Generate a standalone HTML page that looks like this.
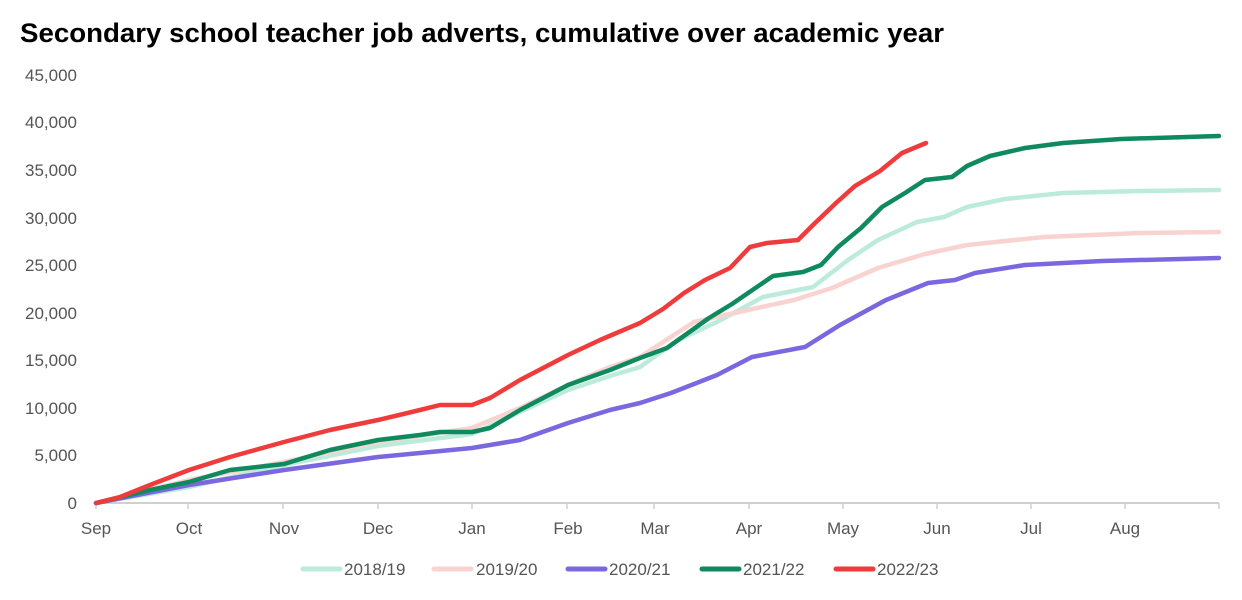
<!DOCTYPE html>
<html><head><meta charset="utf-8"><style>
body{margin:0;background:#fff;}
svg{display:block;font-family:"Liberation Sans",sans-serif;}
</style></head><body>
<svg width="1242" height="600" viewBox="0 0 1242 600">
<text x="20" y="42" font-size="27" font-weight="bold" fill="#000" textLength="924" lengthAdjust="spacingAndGlyphs">Secondary school teacher job adverts, cumulative over academic year</text>
<g font-size="17" fill="#555" text-anchor="end">
<text x="77" y="509">0</text>
<text x="77" y="461">5,000</text>
<text x="77" y="414">10,000</text>
<text x="77" y="366">15,000</text>
<text x="77" y="319">20,000</text>
<text x="77" y="271">25,000</text>
<text x="77" y="224">30,000</text>
<text x="77" y="176">35,000</text>
<text x="77" y="128">40,000</text>
<text x="77" y="81">45,000</text>
</g>
<line x1="96" y1="503" x2="1219" y2="503" stroke="#d0d0d0" stroke-width="2"/>
<g stroke="#d0d0d0" stroke-width="1.5">
<line x1="96" y1="503" x2="96" y2="509"/><line x1="188" y1="503" x2="188" y2="509"/><line x1="283" y1="503" x2="283" y2="509"/><line x1="378" y1="503" x2="378" y2="509"/><line x1="472" y1="503" x2="472" y2="509"/><line x1="567" y1="503" x2="567" y2="509"/><line x1="654" y1="503" x2="654" y2="509"/><line x1="749" y1="503" x2="749" y2="509"/><line x1="843" y1="503" x2="843" y2="509"/><line x1="937" y1="503" x2="937" y2="509"/><line x1="1031" y1="503" x2="1031" y2="509"/><line x1="1125" y1="503" x2="1125" y2="509"/><line x1="1219" y1="503" x2="1219" y2="509"/>
</g>
<g font-size="17" fill="#555" text-anchor="middle">
<text x="96" y="534">Sep</text><text x="189" y="534">Oct</text><text x="284" y="534">Nov</text><text x="378" y="534">Dec</text><text x="472" y="534">Jan</text><text x="568" y="534">Feb</text><text x="655" y="534">Mar</text><text x="749" y="534">Apr</text><text x="843" y="534">May</text><text x="937" y="534">Jun</text><text x="1031" y="534">Jul</text><text x="1125" y="534">Aug</text>
</g>
<g fill="none" stroke-width="4.5" stroke-linejoin="round" stroke-linecap="round">
<polyline stroke="#bcebdc" points="96,503 189,487 284,465 378,446 472,434 520,412 568,390 610,376 640,367 678,340 717,322 763,297 813,287 848,260 878,240 917,222 944,217 967,207 1005,199 1063,193 1140,191 1219,190"/>
<polyline stroke="#f8d3d0" points="96,503 189,480 284,462 378,442 472,428 520,408 568,385 610,367 640,357 694,322 748,310 794,300 832,288 878,268 925,254 967,245 1044,237 1140,233 1219,232"/>
<polyline stroke="#7b68e0" points="96,503 189,485 284,470 378,457 472,448 520,440 568,423 610,410 640,403 671,393 717,375 752,357 805,347 840,325 886,300 928,283 955,280 975,273 1025,265 1102,261 1219,258"/>
<polyline stroke="#0f8a5f" points="96,503 150,490 189,482 230,470 284,464 330,450 378,440 420,435 440,432 472,432 490,428 520,410 568,385 610,370 640,358 667,348 709,318 732,304 773,276 803,272 821,265 838,247 861,228 882,207 905,193 925,180 952,177 967,166 990,156 1025,148 1063,143 1121,139 1219,136"/>
<polyline stroke="#ef3b3b" points="96,503 120,497 150,485 189,470 230,457 284,442 330,430 378,420 420,410 440,405 472,405 490,398 520,380 568,355 600,340 640,323 663,309 684,293 705,280 730,268 750,247 767,243 798,240 813,225 836,203 855,186 880,171 902,153 926,143"/>
</g>
<g stroke-width="5" stroke-linecap="round">
<line x1="303" y1="569" x2="340" y2="569" stroke="#bcebdc"/>
<line x1="434" y1="569" x2="471" y2="569" stroke="#f8d3d0"/>
<line x1="568" y1="569" x2="605" y2="569" stroke="#7b68e0"/>
<line x1="702" y1="569" x2="739" y2="569" stroke="#0f8a5f"/>
<line x1="836" y1="569" x2="873" y2="569" stroke="#ef3b3b"/>
</g>
<g font-size="17" fill="#555">
<text x="344" y="575">2018/19</text><text x="476" y="575">2019/20</text><text x="609" y="575">2020/21</text><text x="743" y="575">2021/22</text><text x="877" y="575">2022/23</text>
</g>
</svg>
</body></html>
